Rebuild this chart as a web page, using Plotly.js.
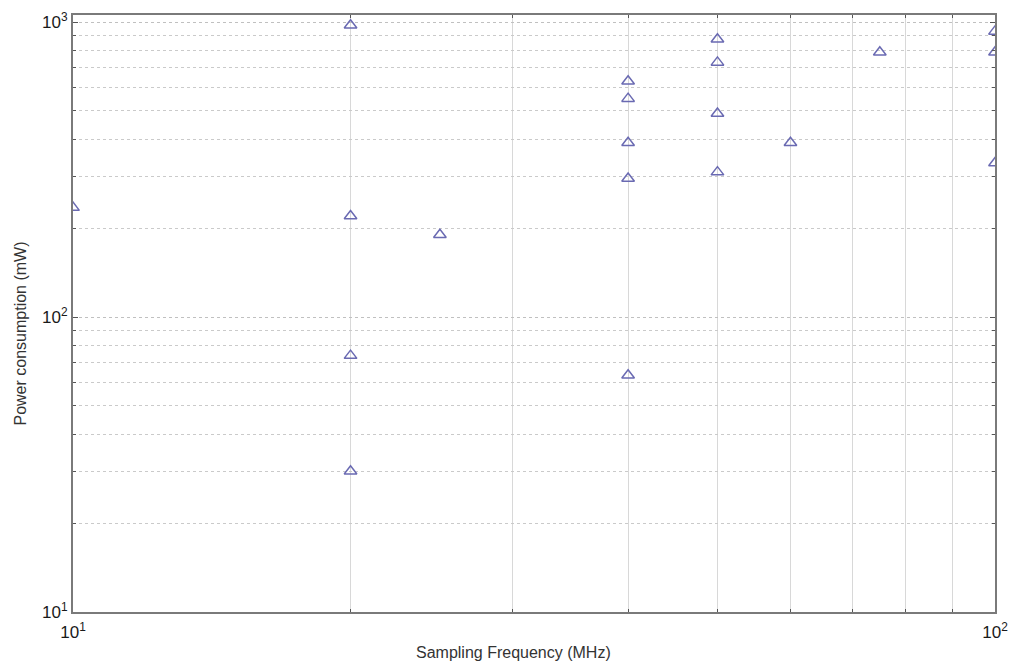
<!DOCTYPE html>
<html>
<head>
<meta charset="utf-8">
<script src="https://cdn.plot.ly/plotly-3.0.1.min.js"></script>
<style>html,body{margin:0;padding:0;background:#fff;}#chart{width:1013px;height:665px;}</style>
</head>
<body>
<div id="chart"></div>
<script>
// Sampling frequency (MHz) and power consumption (mW)
var samplingFreq = [10, 20, 20, 20, 20, 25, 40, 40, 40, 40, 40, 50, 50, 50, 50, 60, 75, 100, 100, 100];
var powerMw      = [235, 975, 220, 74, 30, 190, 630, 550, 390, 295, 63.5, 875, 730, 490, 310, 390, 790, 930, 790, 333];

var xTickVals = [10, 100];
var xTickText = ['10<sup>1</sup>', '10<sup>2</sup>'];
var yTickVals = [10, 100, 1000];
var yTickText = ['10<sup>1</sup>', '10<sup>2</sup>', '10<sup>3</sup>'];
var xTitle = 'Sampling Frequency (MHz)';
var yTitle = 'Power consumption (mW)';

var minorX = [], minorY = [];
for (var m = 2; m <= 9; m++) { minorX.push(m * 10); minorY.push(m * 10); minorY.push(m * 100); }

var trace = {
  x: samplingFreq, y: powerMw, type: 'scatter', mode: 'markers',
  marker: {symbol: 'triangle-up-open', size: 11, color: '#6a6ab2', line: {width: 1.5, color: '#6a6ab2'}},
  hoverinfo: 'x+y'
};

var fontFam = 'Liberation Sans, Arial, sans-serif';
var axisCommon = {
  type: 'log', showline: true, linecolor: '#7a7a7a', linewidth: 2, mirror: 'allticks',
  ticks: 'inside', ticklen: 5, tickcolor: '#555', tickwidth: 1,
  tickmode: 'array', zeroline: false,
  tickfont: {family: fontFam, size: 17, color: '#1a1a1a'}
};

var layout = {
  width: 1013, height: 665,
  margin: {l: 73, r: 18, t: 15, b: 53},
  paper_bgcolor: '#fff', plot_bgcolor: '#fff',
  showlegend: false,
  xaxis: Object.assign({}, axisCommon, {
    range: [1, 2], tickvals: xTickVals, ticktext: xTickText, ticklabelstandoff: 4,
    showgrid: true, gridcolor: '#d4d4d4', gridwidth: 1,
    minor: {tickmode: 'array', tickvals: minorX, ticks: 'inside', ticklen: 3, tickcolor: '#555', showgrid: true, gridcolor: '#d8d8d8', gridwidth: 1}
  }),
  yaxis: Object.assign({}, axisCommon, {
    range: [1, 3.024], tickvals: yTickVals, ticktext: yTickText,
    showgrid: true, gridcolor: '#c0c0c0', gridwidth: 1, griddash: 'dot',
    minor: {tickmode: 'array', tickvals: minorY, ticks: 'inside', ticklen: 3, tickcolor: '#555', showgrid: true, gridcolor: '#cacaca', gridwidth: 1, griddash: 'dot'}
  }),
  annotations: [
    {text: xTitle, xref: 'paper', yref: 'paper', x: (513 - 73) / 922, y: -0.068, xanchor: 'center', yanchor: 'middle',
     showarrow: false, font: {family: fontFam, size: 16, color: '#333'}},
    {text: yTitle, xref: 'paper', yref: 'paper', x: -0.058, y: (612 - 334) / 597, xanchor: 'center', yanchor: 'middle',
     textangle: -90, showarrow: false, font: {family: fontFam, size: 16, color: '#333'}}
  ]
};

Plotly.newPlot('chart', [trace], layout, {displayModeBar: false, staticPlot: true});
</script>
</body>
</html>
